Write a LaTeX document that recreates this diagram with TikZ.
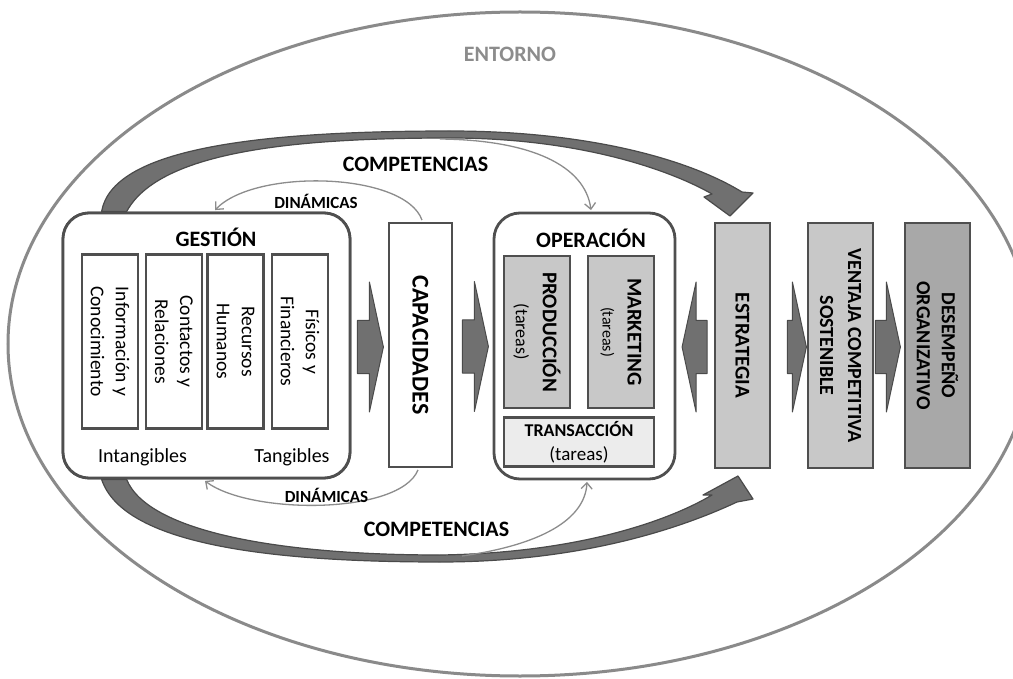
\documentclass[tikz,border=0pt]{standalone}
\usepackage{fontspec}
\setmainfont{Carlito}
\usetikzlibrary{arrows.meta,calc}
\definecolor{bord}{HTML}{4F4F4F}
\definecolor{ellc}{HTML}{8A8A8A}
\definecolor{lg}{HTML}{C8C8C8}
\definecolor{dg}{HTML}{A8A8A8}
\definecolor{vlg}{HTML}{ECECEC}
\definecolor{arrf}{HTML}{707070}
\definecolor{arrd}{HTML}{4A4A4A}
\definecolor{thinc}{HTML}{8C8C8C}
\definecolor{entc}{HTML}{8C8C8C}
% right-pointing block arrow: anchor, x offset, shaft length, head length
\newcommand{\rarrow}[4]{\draw[barr] ($(#1)+(#2,-25)$) -- ++(#3,0) -- ++(0,-38.5) -- ++(#4,65) -- ++(-#4,65) -- ++(0,-38.5) -- ++(-#3,0) -- cycle;}
% left-pointing block arrow
\newcommand{\larrow}[4]{\draw[barr] ($(#1)+(#2,-25)$) -- ++(-#3,0) -- ++(0,-38.5) -- ++(-#4,65) -- ++(#4,65) -- ++(0,-38.5) -- ++(#3,0) -- cycle;}
\begin{document}
\begin{tikzpicture}[x=1pt,y=-1pt,
  box/.style={draw=bord, line width=2.8pt, inner sep=0pt, fill=white},
  rbox/.style={box, rounded corners=26pt},
  rt/.style={rotate=-90, align=center, inner sep=0pt},
  ht/.style={align=center, inner sep=0pt},
  barr/.style={fill=arrf, draw=arrd, line width=1pt, line join=round},
  bigarr/.style={fill=arrf, draw=arrd, line width=1.2pt, line join=round},
  thinarr/.style={draw=thinc, line width=1.3pt, -{Straight Barb[length=6pt,width=11pt]}},
  ell/.style={draw=ellc, line width=3pt},
  bf22/.style={font=\bfseries\fontsize{22}{26}\selectfont},
  bf17/.style={font=\bfseries\fontsize{17}{20}\selectfont},
  rg20/.style={font=\fontsize{20}{24}\selectfont},
  inner/.style={font=\fontsize{19.5}{25}\selectfont}
]
\clip (0,0) rectangle (1013,679);
\fill[white] (0,0) rectangle (1013,679);
\draw[ell] (520,344) ellipse [x radius=512, y radius=332];
\node[ht, bf22, text=entc] (ent) at (510,54.5) {ENTORNO};

% main boxes
\node[rbox, minimum width=287pt, minimum height=265pt] (g) at (206.5,345.5) {};
\node[box, minimum width=63pt, minimum height=244pt] (cap) at (420.5,345) {};
\node[rbox, minimum width=181pt, minimum height=266pt] (op) at (584.5,346) {};
\node[box, fill=lg, minimum width=55pt, minimum height=245pt] (est) at (742.5,345.5) {};
\node[box, fill=lg, minimum width=65pt, minimum height=245pt] (ven) at (840.5,345.5) {};
\node[box, fill=dg, minimum width=65pt, minimum height=245pt] (des) at (937.5,345.5) {};

% thick COMPETENCIAS arrows
\draw[bigarr] ($(g.north west)+(40,0)$) .. controls (112,150) and (250,131) .. (450,131)
  .. controls (590,131) and (690,160) .. (742,192) -- (753,193) -- (730,216) -- (704,197) -- (712,194)
  .. controls (670,170) and (580,138) .. (450,138) .. controls (300,138) and (160,150) .. ($(g.north west)+(65,0)$) -- cycle;
\draw[bigarr] ($(g.south west)+(65,0)$) .. controls (148,532) and (280,555) .. (440,555)
  .. controls (580,553) and (670,520) .. (712,495) -- (703,495) -- (738,476) -- (753,499) -- (737,502)
  .. controls (690,524) and (590,562) .. (440,562) .. controls (250,562) and (122,540) .. ($(g.south west)+(40,0)$) -- cycle;
\node[ht, bf22] (comp1) at (415.5,164) {COMPETENCIAS};
\node[ht, bf22] (comp2) at (436.5,529) {COMPETENCIAS};

% redraw boxes over arrow ends
\node[rbox, minimum width=287pt, minimum height=265pt] at (g) {};
\node[ht, bf22] (gl) at (216,237) {GESTIÓN};
\node[box, minimum width=56pt, minimum height=174pt] (r1) at (110,341.5) {};
\node[box, minimum width=56pt, minimum height=174pt] (r2) at (174,341.5) {};
\node[box, minimum width=56pt, minimum height=174pt] (r3) at (235.5,341.5) {};
\node[box, minimum width=56pt, minimum height=174pt] (r4) at (300,341.5) {};
\node[rt, inner] at (r1) {Información y\\Conocimiento};
\node[rt, inner] at (r2) {Contactos y\\Relaciones};
\node[rt, inner] at (r3) {Recursos\\Humanos};
\node[rt, inner] at (r4) {Físicos y\\Financieros};
\node[ht, rg20] (intang) at (142.5,457) {Intangibles};
\node[ht, rg20] (tang) at (292,457) {Tangibles};

\node[rt, font=\bfseries\fontsize{24}{28}\selectfont] at (cap) {CAPACIDADES};

\node[ht, bf22] (ol) at (591,238) {OPERACIÓN};
\node[box, fill=lg, minimum width=66pt, minimum height=152pt] (prod) at (537,332) {};
\node[box, fill=lg, minimum width=66pt, minimum height=152pt] (mark) at (621,332) {};
\node[box, fill=vlg, minimum width=150pt, minimum height=49pt] (tr) at (579,442) {};
\node[rt, font=\fontsize{20}{27}\selectfont] at (prod) {{\bfseries\fontsize{21}{25}\selectfont PRODUCCIÓN}\\{\fontsize{18}{22}\selectfont (tareas)}};
\node[rt, font=\fontsize{20}{25}\selectfont] at (mark) {{\bfseries\fontsize{21}{25}\selectfont MARKETING}\\{\fontsize{16}{19}\selectfont (tareas)}};
\node[ht, font=\fontsize{19}{24}\selectfont] at (tr) {{\bfseries\fontsize{18}{22}\selectfont TRANSACCIÓN}\\(tareas)};

\node[rt, font=\bfseries\fontsize{21}{25}\selectfont] at (est) {ESTRATEGIA};
\node[rt, font=\bfseries\fontsize{20}{28}\selectfont] at (ven) {VENTAJA COMPETITIVA\\SOSTENIBLE};
\node[rt, font=\bfseries\fontsize{20}{25}\selectfont] at (des) {DESEMPEÑO\\ORGANIZATIVO};

% block arrows
\rarrow{g.east}{6}{12}{14}
\rarrow{cap.east}{9}{12}{14}
\larrow{est.west}{-6.5}{11}{14}
\rarrow{est.east}{16}{5}{14}
\rarrow{ven.east}{1}{11}{14}

% thin DINÁMICAS arrows
\draw[thinarr] ($(cap.north)+(1.5,-1.5)$) .. controls (405,172) and (255,168) .. ($(g.north)+(8.5,-1.5)$);
\draw[thinarr] ($(cap.south)+(-2.5,1.5)$) .. controls (400,515) and (250,515) .. ($(g.south)+(-1.5,1.5)$);
\node[ht, bf17] (din1) at (316,201.5) {DINÁMICAS};
\node[ht, bf17] (din2) at (326.5,495) {DINÁMICAS};

% thin arrows from COMPETENCIAS to OPERACIÓN
\coordinate (ct) at (440,139);
\coordinate (cb) at (462,556);
\draw[thinarr] (ct) .. controls (530,140) and (585,165) .. ($(op.north)+(6.5,-1.5)$);
\draw[thinarr] (cb) .. controls (540,545) and (585,520) .. ($(op.south)+(2.5,1.5)$);
\end{tikzpicture}
\end{document}
